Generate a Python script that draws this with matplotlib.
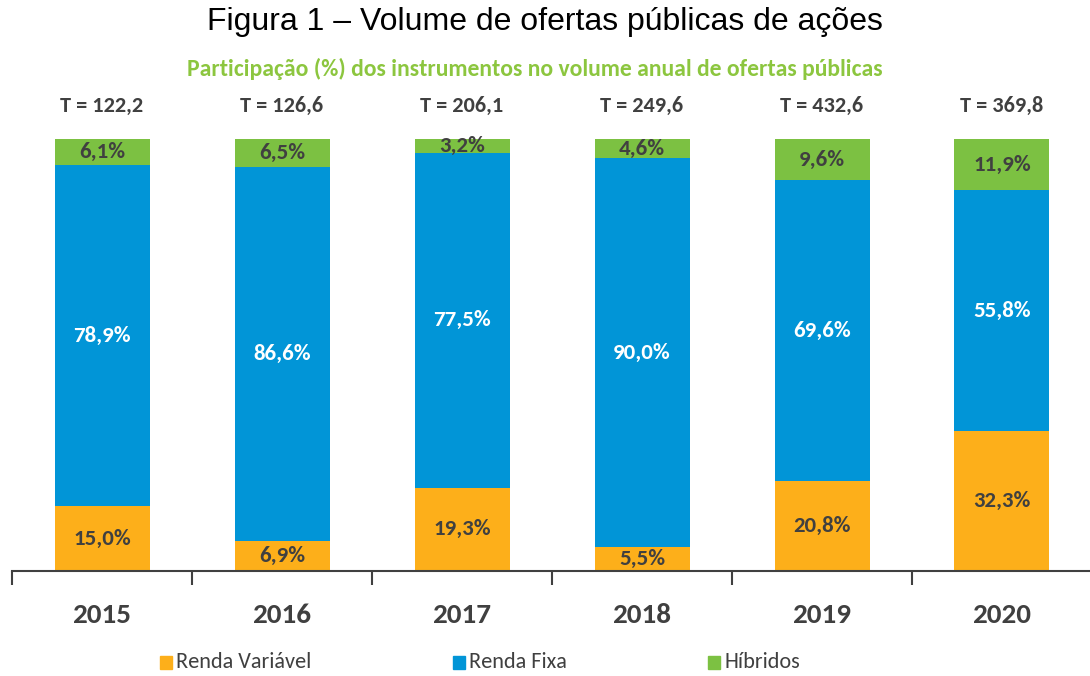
import matplotlib
matplotlib.use("Agg")
import matplotlib.pyplot as plt
import numpy as np
from matplotlib.patches import Rectangle

# data
years = ["2015", "2016", "2017", "2018", "2019", "2020"]
totals = ["122,2", "126,6", "206,1", "249,6", "432,6", "369,8"]
renda_variavel = [15.0, 6.9, 19.3, 5.5, 20.8, 32.3]
renda_fixa = [78.9, 86.6, 77.5, 90.0, 69.6, 55.8]
hibridos = [6.1, 6.5, 3.2, 4.6, 9.6, 11.9]

c_orange = "#FDAF1A"
c_blue = "#0195D7"
c_green = "#7CC142"
c_text = "#404040"

# Calibri look-alike, with fallbacks
narrow = ["Carlito", "IBM Plex Sans Condensed", "DejaVu Sans"]


def fmt(v):
    return f"{v:.1f}".replace(".", ",") + "%"


fig = plt.figure(figsize=(10.9, 6.76), dpi=100)
W, H = 1090, 676
# axes: x 12..1092 px, y 139 (100%) .. 571 (0%)
ax = fig.add_axes([12 / W, 1 - 571 / H, 1080 / W, 432 / H])

x = np.arange(len(years))
width = 95 / 180
ax.bar(x, renda_variavel, width, color=c_orange)
bottom2 = np.array(renda_variavel)
ax.bar(x, renda_fixa, width, bottom=bottom2, color=c_blue)
bottom3 = bottom2 + np.array(renda_fixa)
ax.bar(x, hibridos, width, bottom=bottom3, color=c_green)

lbl = dict(ha="center", va="center", fontsize=16.5, fontweight="bold", family=narrow)
for i in range(len(years)):
    ax.text(x[i], renda_variavel[i] / 2, fmt(renda_variavel[i]), color=c_text, **lbl)
    ax.text(x[i], bottom2[i] + renda_fixa[i] / 2, fmt(renda_fixa[i]), color="white", **lbl)
    ax.text(x[i], bottom3[i] + hibridos[i] / 2, fmt(hibridos[i]), color=c_text, **lbl)
    ax.text(x[i], 107.7, "T = " + totals[i], ha="center", va="center", fontsize=16,
            fontweight="bold", family=narrow, color=c_text)
    ax.text(x[i], -10.1, years[i], ha="center", va="center",
            fontsize=21, fontweight="bold", color=c_text, family=narrow)

ax.set_xlim(-0.5, 5.5)
ax.set_ylim(0, 100)
for s in ["top", "left", "right"]:
    ax.spines[s].set_visible(False)
ax.spines["bottom"].set_color("#404040")
ax.spines["bottom"].set_linewidth(1.5)
ax.set_yticks([])
ax.set_xticks(np.arange(-0.5, 6, 1))
ax.set_xticklabels([])
ax.tick_params(axis="x", direction="out", length=10, width=1.5, color="#404040")

fig.text(545 / W, 1 - 22 / H, "Figura 1 – Volume de ofertas públicas de ações", ha="center", va="center",
         fontsize=23, family=["Liberation Sans", "DejaVu Sans"], color="black")
fig.text(535 / W, 1 - 69 / H, "Participação (%) dos instrumentos no volume anual de ofertas públicas",
         ha="center", va="center", fontsize=17, fontweight="bold", color="#8CC63F", family=narrow)

# legend
legend_items = [("Renda Variável", c_orange, 160), ("Renda Fixa", c_blue, 453), ("Híbridos", c_green, 708)]
for label, col, px in legend_items:
    fig.patches.append(Rectangle((px / W, 1 - 669 / H), 12 / W, 13 / H, color=col,
                                 transform=fig.transFigure, figure=fig))
    fig.text((px + 16) / W, 1 - 662 / H, label, ha="left", va="center", fontsize=16,
             color=c_text, family=narrow)

fig.savefig("out.png", dpi=100)
